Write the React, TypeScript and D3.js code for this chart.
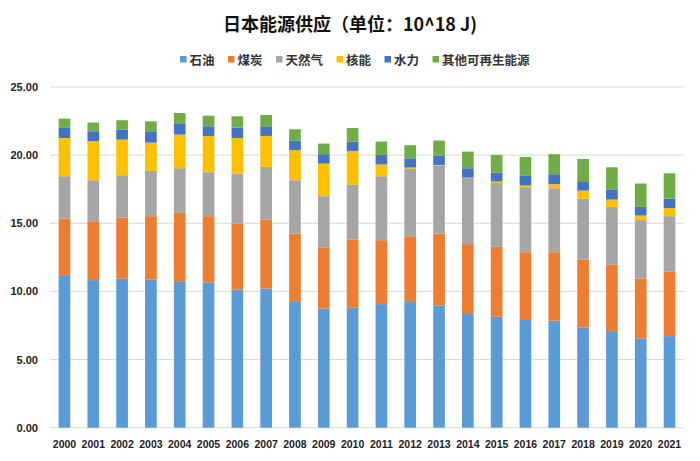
import React from "react";
import * as d3 from "d3";

const years = ["2000","2001","2002","2003","2004","2005","2006","2007","2008","2009","2010","2011","2012","2013","2014","2015","2016","2017","2018","2019","2020","2021"];
const seriesNames = ["石油", "煤炭", "天然气", "核能", "水力", "其他可再生能源"];
const colors = ["#5B9BD5", "#ED7D31", "#A5A5A5", "#FFC000", "#4472C4", "#70AD47"];
const oil = [11.14,10.83,10.95,10.88,10.70,10.66,10.15,10.22,9.29,8.75,8.80,9.07,9.22,8.95,8.34,8.14,7.90,7.85,7.36,7.09,6.55,6.72];
const coal = [4.21,4.32,4.47,4.64,5.06,4.86,4.84,5.06,4.96,4.45,5.01,4.69,4.83,5.30,5.13,5.13,4.98,5.03,4.99,4.89,4.40,4.75];
const gas = [3.10,3.01,3.11,3.32,3.28,3.23,3.66,3.86,3.91,3.79,4.03,4.69,4.94,4.96,4.89,4.69,4.77,4.69,4.47,4.22,4.28,4.05];
const nuclear = [2.81,2.86,2.61,2.08,2.47,2.66,2.61,2.27,2.20,2.39,2.47,0.86,0.10,0.07,0.0,0.10,0.12,0.30,0.58,0.54,0.34,0.59];
const hydro = [0.74,0.73,0.73,0.78,0.78,0.71,0.76,0.71,0.71,0.69,0.69,0.71,0.68,0.69,0.68,0.66,0.71,0.73,0.69,0.71,0.63,0.71];
const renewables = [0.68,0.64,0.69,0.78,0.80,0.78,0.83,0.83,0.83,0.78,0.99,0.98,0.96,1.10,1.22,1.30,1.39,1.47,1.63,1.66,1.72,1.85];
const yTicks = [0, 5, 10, 15, 20, 25];

const W = 700, H = 461;
const M = { left: 50, right: 16, top: 87, bottom: 33 };

export default function App() {
  const allSeries = [oil, coal, gas, nuclear, hydro, renewables];
  const rows = years.map((y, i) => {
    const r: any = { year: y };
    seriesNames.forEach((n, k) => (r[n] = allSeries[k][i]));
    return r;
  });
  const stacked = d3.stack<any>().keys(seriesNames)(rows);

  const x = d3.scaleBand().domain(years).range([M.left, W - M.right]).paddingInner(0.595).paddingOuter(0.3);
  const y = d3.scaleLinear().domain([0, 25]).range([H - M.bottom - 0.3, M.top]);

  const font = "'Noto Sans CJK SC', 'Liberation Sans', sans-serif";
  const numFont = "'Liberation Sans', Arial, sans-serif";

  // legend layout
  const charW = 12.5;
  const legendItems = seriesNames.map((n) => ({ n, w: 10 + n.length * charW }));
  const gap = 13;
  const totalW = d3.sum(legendItems, (d) => d.w) + gap * (legendItems.length - 1);
  let lx = (W - totalW) / 2 + 5;
  const legendPos = legendItems.map((d) => {
    const p = lx;
    lx += d.w + gap;
    return p;
  });

  return (
    <svg width={W} height={H} style={{ position: "absolute", left: 0, top: 0, background: "#fff" }}>
      <rect x={0} y={0} width={W} height={H} fill="#fff" />
      <text x={350} y={23} textAnchor="middle" dominantBaseline="central" fontFamily={font} fontWeight="bold" fontSize={18} fill="#111">
        日本能源供应（单位：10^18 J)
      </text>
      {seriesNames.map((n, k) => (
        <g key={n}>
          <rect x={legendPos[k]} y={56} width={6.5} height={6.5} fill={colors[k]} />
          <text x={legendPos[k] + 9.5} y={59.5} dominantBaseline="central" fontFamily={font} fontWeight="bold" fontSize={12.5} fill="#333">
            {n}
          </text>
        </g>
      ))}
      {yTicks.map((t) => (
        <g key={t}>
          <line x1={M.left} x2={W - M.right} y1={y(t)} y2={y(t)} stroke="#D9D9D9" strokeWidth={1} />
          <text x={38} y={y(t)} textAnchor="end" dominantBaseline="central" fontFamily={numFont} fontWeight="bold" fontSize={11} fill="#222">
            {t.toFixed(2)}
          </text>
        </g>
      ))}
      {stacked.map((s, k) => (
        <g key={s.key} fill={colors[k]}>
          {s.map((d, i) => (
            <rect key={i} x={x(years[i])} width={x.bandwidth()} y={y(d[1])} height={Math.max(0, y(d[0]) - y(d[1]))} />
          ))}
        </g>
      ))}
      {years.map((yr) => (
        <text key={yr} x={(x(yr) as number) + x.bandwidth() / 2} y={444} textAnchor="middle" dominantBaseline="central" fontFamily={numFont} fontWeight="bold" fontSize={10.5} fill="#222">
          {yr}
        </text>
      ))}
    </svg>
  );
}
